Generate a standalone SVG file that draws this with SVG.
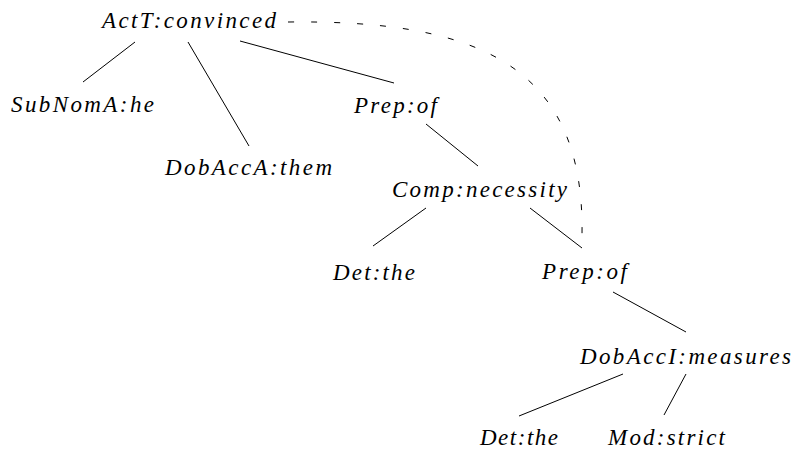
<svg xmlns="http://www.w3.org/2000/svg" width="794" height="452" viewBox="0 0 794 452">
<style>
text{font-style:italic;font-size:23px;fill:#000}
.e{stroke:#000;stroke-width:1;fill:none}
.d{stroke:#000;stroke-width:1;fill:none;stroke-dasharray:6 17}
</style>
<rect width="794" height="452" fill="#fff"/>
<g id="connectors">
<line class="e" x1="135" y1="42" x2="83" y2="82"/>
<line class="e" x1="188" y1="42" x2="249" y2="146"/>
<line class="e" x1="240" y1="41" x2="394" y2="83"/>
<line class="e" x1="426" y1="124" x2="478" y2="166"/>
<line class="e" x1="426" y1="208" x2="373" y2="246"/>
<line class="e" x1="530" y1="208" x2="582" y2="248"/>
<line class="e" x1="613" y1="292" x2="686" y2="332"/>
<line class="e" x1="623" y1="374" x2="519" y2="416"/>
<line class="e" x1="686" y1="374" x2="664" y2="415"/>
<path class="d" d="M288 22 C470 20 585 60 582 235"/>
</g>
<g font-family="'Liberation Serif', 'DejaVu Serif', serif">
<g id="n1"><text x="102" y="28" textLength="174" lengthAdjust="spacing">ActT:convinced</text></g>
<g id="n2"><text x="11" y="112" textLength="143" lengthAdjust="spacing">SubNomA:he</text></g>
<g id="n3"><text x="165" y="175" textLength="167" lengthAdjust="spacing">DobAccA:them</text></g>
<g id="n4"><text x="354" y="113" textLength="83" lengthAdjust="spacing">Prep:of</text></g>
<g id="n5"><text x="392" y="197" textLength="175" lengthAdjust="spacing">Comp:necessity</text></g>
<g id="n6"><text x="333" y="280" textLength="82" lengthAdjust="spacing">Det:the</text></g>
<g id="n7"><text x="542" y="279" textLength="85" lengthAdjust="spacing">Prep:of</text></g>
<g id="n8"><text x="580" y="364" textLength="211" lengthAdjust="spacing">DobAccI:measures</text></g>
<g id="n9"><text x="480" y="445" textLength="78" lengthAdjust="spacing">Det:the</text></g>
<g id="n10"><text x="608" y="445" textLength="117" lengthAdjust="spacing">Mod:strict</text></g>
</g>
</svg>
